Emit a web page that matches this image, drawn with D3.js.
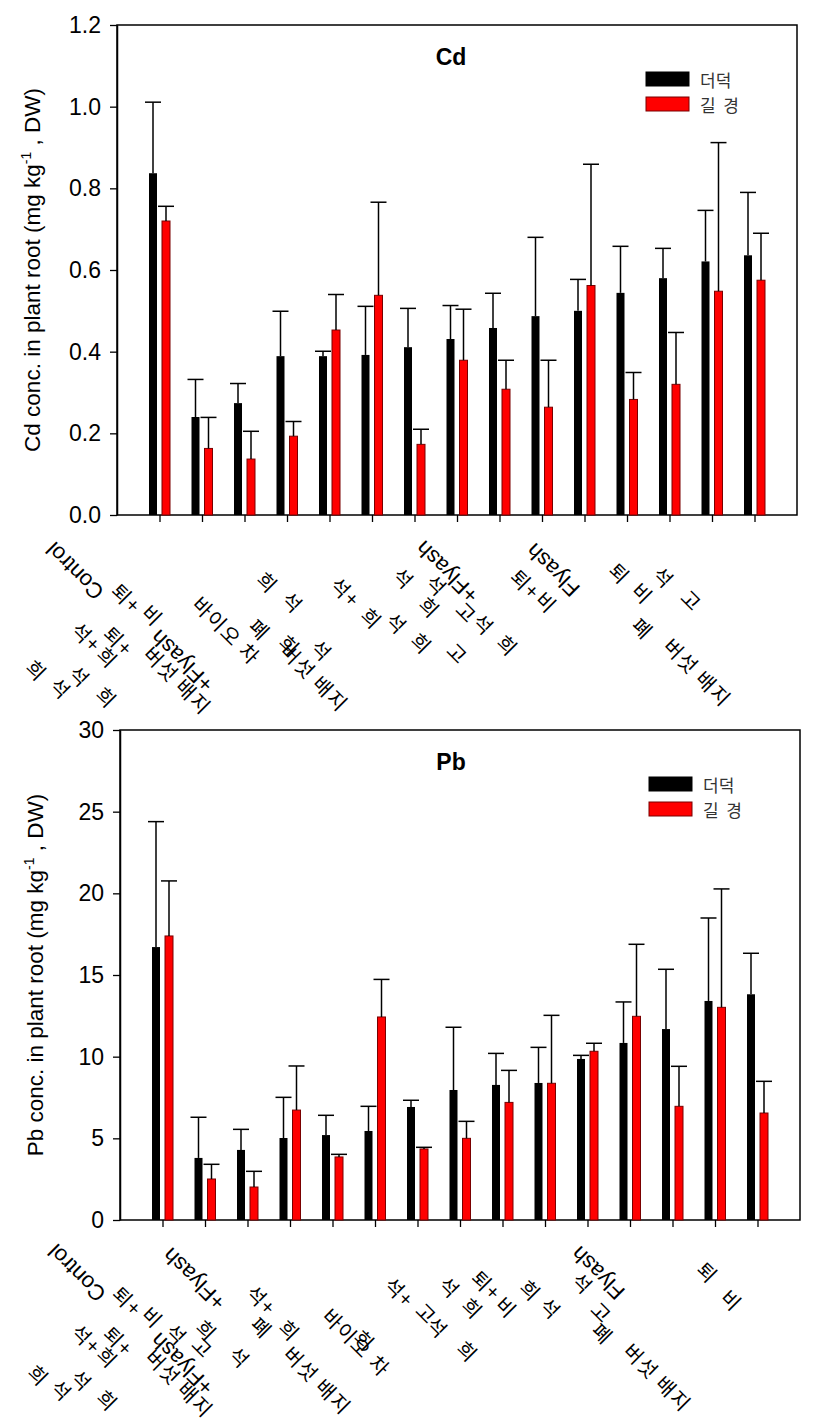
<!DOCTYPE html>
<html><head><meta charset="utf-8">
<script src="https://cdn.jsdelivr.net/npm/d3@7"></script>
<style>body{margin:0;background:#fff}svg{display:block}</style>
</head><body>
<svg id="chart" width="816" height="1424"></svg>
<script>
// ---------------- data ----------------
const categories = ["Control","T2","T3","T4","T5","T6","T7","T8","T9","T10","T11","T12","T13","T14","T15"];
const seriesNames = ["더덕", "길\u00a0\u00a0경"];
const seriesColors = ["#000000", "#ff0000"];

const cdDeodeok    = [0.837,0.240,0.274,0.389,0.389,0.392,0.411,0.431,0.458,0.487,0.500,0.544,0.580,0.621,0.636];
const cdDeodeokErr = [0.174,0.092,0.048,0.110,0.012,0.119,0.095,0.082,0.085,0.193,0.077,0.114,0.073,0.125,0.154];
const cdGilgyeong    = [0.720,0.163,0.137,0.193,0.453,0.538,0.173,0.379,0.308,0.264,0.562,0.283,0.320,0.548,0.575];
const cdGilgyeongErr = [0.036,0.076,0.068,0.036,0.087,0.228,0.037,0.125,0.071,0.115,0.297,0.066,0.127,0.364,0.115];

const pbDeodeok    = [16.71,3.80,4.29,5.02,5.20,5.45,6.92,7.96,8.27,8.39,9.86,10.84,11.69,13.41,13.82];
const pbDeodeokErr = [7.68,2.49,1.26,2.49,1.21,1.51,0.41,3.84,1.93,2.18,0.22,2.51,3.66,5.08,2.51];
const pbGilgyeong    = [17.39,2.51,2.02,6.73,3.86,12.43,4.35,5.00,7.20,8.37,10.33,12.47,6.96,13.02,6.55];
const pbGilgyeongErr = [3.37,0.90,0.96,2.70,0.16,2.30,0.10,1.04,1.96,4.16,0.49,4.41,2.45,7.25,1.94];

const cdTicks = [0.0,0.2,0.4,0.6,0.8,1.0,1.2];
const pbTicks = [0,5,10,15,20,25,30];

// x tick label fragments (as they appear in the figure)
const cdTickLabels = ["Control","퇴+","비","석+","퇴+","희","+Flyash","버섯 배지","희","석","석","희",
  "바이오 차","희","석","폐","희","석","버섯 배지","석+","희","석","석",
  "+Flyash","석","희","고","석","희","고","희",
  "Flyash","퇴+","비","퇴","비","석","고","폐","버섯 배지"];
const pbTickLabels = ["Control","+Flyash","퇴+","비","석","석+","퇴+","희","+Flyash","버섯 배지","희","석","석","희",
  "희","고","석","석+","폐","희","버섯 배지","바이오 차","희","석+",
  "석","고","석","희","퇴+","희","비","희","석",
  "Flyash","석","고","폐","버섯 배지","퇴","비"];

// ---------------- layout (placement of label fragments: x, offset below axis, flipped) ----------------
const cdLabelPlace = [[75,56,1],[127,83,0],[153,100,0],[87,122,0],[119,126,0],[108,142,0],[182,146,1],[178,165,0],[37,155,0],[61,173,0],[80,161,0],[107,182,0],
  [227,115,0],[268,67,0],[293,87,0],[260,114,0],[290,130,0],[322,135,0],[315,162,0],[346,77,0],[372,103,0],[397,108,0],[404,63,0],
  [447,57,1],[437,70,0],[430,92,0],[467,97,0],[484,109,0],[422,128,0],[458,138,0],[508,130,0],
  [553,55,1],[526,69,0],[547,87,0],[620,58,0],[643,78,0],[664,62,0],[692,85,0],[643,113,0],[698,157,0]];
const pbLabelPlace = [[77,53,1],[194,59,1],[128,81,0],[153,97,0],[177,114,0],[87,119,0],[119,121,0],[108,137,0],[182,144,1],[180,163,0],[39,155,0],[62,170,0],[82,160,0],[108,180,0],
  [207,110,0],[203,127,0],[240,137,0],[262,80,0],[262,107,0],[290,110,0],[318,160,0],[357,122,0],[365,120,0],[400,72,0],
  [450,67,0],[427,93,0],[438,107,0],[468,131,0],[487,65,0],[473,88,0],[507,87,0],[531,70,0],[551,88,0],
  [598,53,1],[583,63,0],[602,92,0],[603,113,0],[658,157,0],[708,52,0],[732,80,0]];

const svg = d3.select("#chart");
const LATIN = "'Liberation Sans', Arial, sans-serif";
const KOR = "'Noto Sans CJK KR', 'Noto Sans', sans-serif";

function panel(cfg) {
  const g = svg.append("g");
  const x = d3.scalePoint().domain(categories).range([cfg.x0, cfg.x1]).padding(1);
  const y = d3.scaleLinear().domain([0, cfg.ymax]).range([cfg.y1, cfg.y0]);

  // frame
  g.append("rect").attr("x", cfg.x0).attr("y", cfg.y0)
    .attr("width", cfg.x1 - cfg.x0).attr("height", cfg.y1 - cfg.y0)
    .attr("fill", "none").attr("stroke", "#000").attr("stroke-width", 1.5);

  // y axis
  const ya = g.append("g").attr("transform", `translate(${cfg.x0},0)`)
    .call(d3.axisLeft(y).tickValues(cfg.ticks).tickFormat(cfg.fmt).tickSize(7).tickSizeOuter(0).tickPadding(9));
  ya.select(".domain").attr("stroke-width", 1.5);
  ya.selectAll(".tick line").attr("stroke-width", 1.3);
  ya.selectAll("text").attr("font-family", LATIN).attr("font-size", 23).attr("fill", "#000");

  // x axis
  const xa = g.append("g").attr("transform", `translate(0,${cfg.y1})`)
    .call(d3.axisBottom(x).tickSize(7).tickSizeOuter(0).tickFormat(""));
  xa.select(".domain").remove();
  xa.selectAll(".tick line").attr("stroke-width", 1.3);

  // y title
  const t = g.append("text")
    .attr("transform", `translate(${cfg.titleX},${(cfg.y0 + cfg.y1) / 2}) rotate(-90)`)
    .attr("text-anchor", "middle").attr("font-family", LATIN).attr("font-size", 22.5);
  t.append("tspan").text(cfg.ylabel + " (mg kg");
  t.append("tspan").attr("dy", -9).attr("font-size", 14).text("-1");
  t.append("tspan").attr("dy", 9).text(" , DW)");

  // chart title
  g.append("text").attr("x", cfg.titleCx).attr("y", cfg.y0 + 40)
    .attr("text-anchor", "middle").attr("font-family", LATIN)
    .attr("font-weight", "bold").attr("font-size", 23).text(cfg.name);

  // bars
  const offsets = [-10.5, 2.5], bw = 8;
  cfg.series.forEach((s, k) => {
    const bars = g.append("g");
    s.values.forEach((v, i) => {
      const cx = x(categories[i]) + offsets[k];
      bars.append("rect").attr("x", cx).attr("y", y(v)).attr("width", bw)
        .attr("height", y(0) - y(v)).attr("fill", seriesColors[k])
        .attr("stroke", k === 0 ? "#000" : "#7a0000").attr("stroke-width", k === 0 ? 0 : 1);
      const mx = cx + bw / 2, top = y(v + s.err[i]);
      bars.append("line").attr("x1", mx).attr("x2", mx).attr("y1", y(v)).attr("y2", top)
        .attr("stroke", "#000").attr("stroke-width", 1.5);
      bars.append("line").attr("x1", mx - 8).attr("x2", mx + 8).attr("y1", top).attr("y2", top)
        .attr("stroke", "#000").attr("stroke-width", 1.5);
    });
  });

  // legend
  seriesNames.forEach((n, k) => {
    const ly = cfg.y0 + 47 + k * 25;
    g.append("rect").attr("x", cfg.x1 - 151).attr("y", ly).attr("width", 43).attr("height", 14)
      .attr("fill", seriesColors[k]).attr("stroke", k === 0 ? "#000" : "#7a0000").attr("stroke-width", 1);
    g.append("text").attr("x", cfg.x1 - 97).attr("y", ly + 7).attr("dominant-baseline", "central")
      .attr("font-family", KOR).attr("font-size", 17).attr("fill", "#333").text(n);
  });

  // x tick label fragments
  cfg.labels.forEach((txt, i) => {
    const [px, dy, flip] = cfg.place[i];
    const latin = /[A-Za-z]/.test(txt);
    g.append("text")
      .attr("transform", `translate(${px},${cfg.y1 + dy}) rotate(${flip ? -135 : 45})`)
      .attr("text-anchor", "middle").attr("dominant-baseline", "central")
      .attr("font-family", latin ? LATIN : KOR)
      .attr("font-weight", "normal")
      .attr("font-size", latin ? 22 : 20)
      .attr("letter-spacing", latin ? 0 : 1.5)
      .attr("fill", "#000").text(txt);
  });
}

panel({
  name: "Cd", ymax: 1.2, ticks: cdTicks, fmt: d3.format(".1f"),
  x0: 117, x1: 797, y0: 25, y1: 515, titleX: 40, titleCx: 451,
  ylabel: "Cd conc. in plant root",
  series: [{values: cdDeodeok, err: cdDeodeokErr}, {values: cdGilgyeong, err: cdGilgyeongErr}],
  labels: cdTickLabels, place: cdLabelPlace
});
panel({
  name: "Pb", ymax: 30, ticks: pbTicks, fmt: d3.format("d"),
  x0: 120, x1: 800, y0: 730, y1: 1220, titleX: 43, titleCx: 451,
  ylabel: "Pb conc. in plant root",
  series: [{values: pbDeodeok, err: pbDeodeokErr}, {values: pbGilgyeong, err: pbGilgyeongErr}],
  labels: pbTickLabels, place: pbLabelPlace
});
</script>
</body></html>
